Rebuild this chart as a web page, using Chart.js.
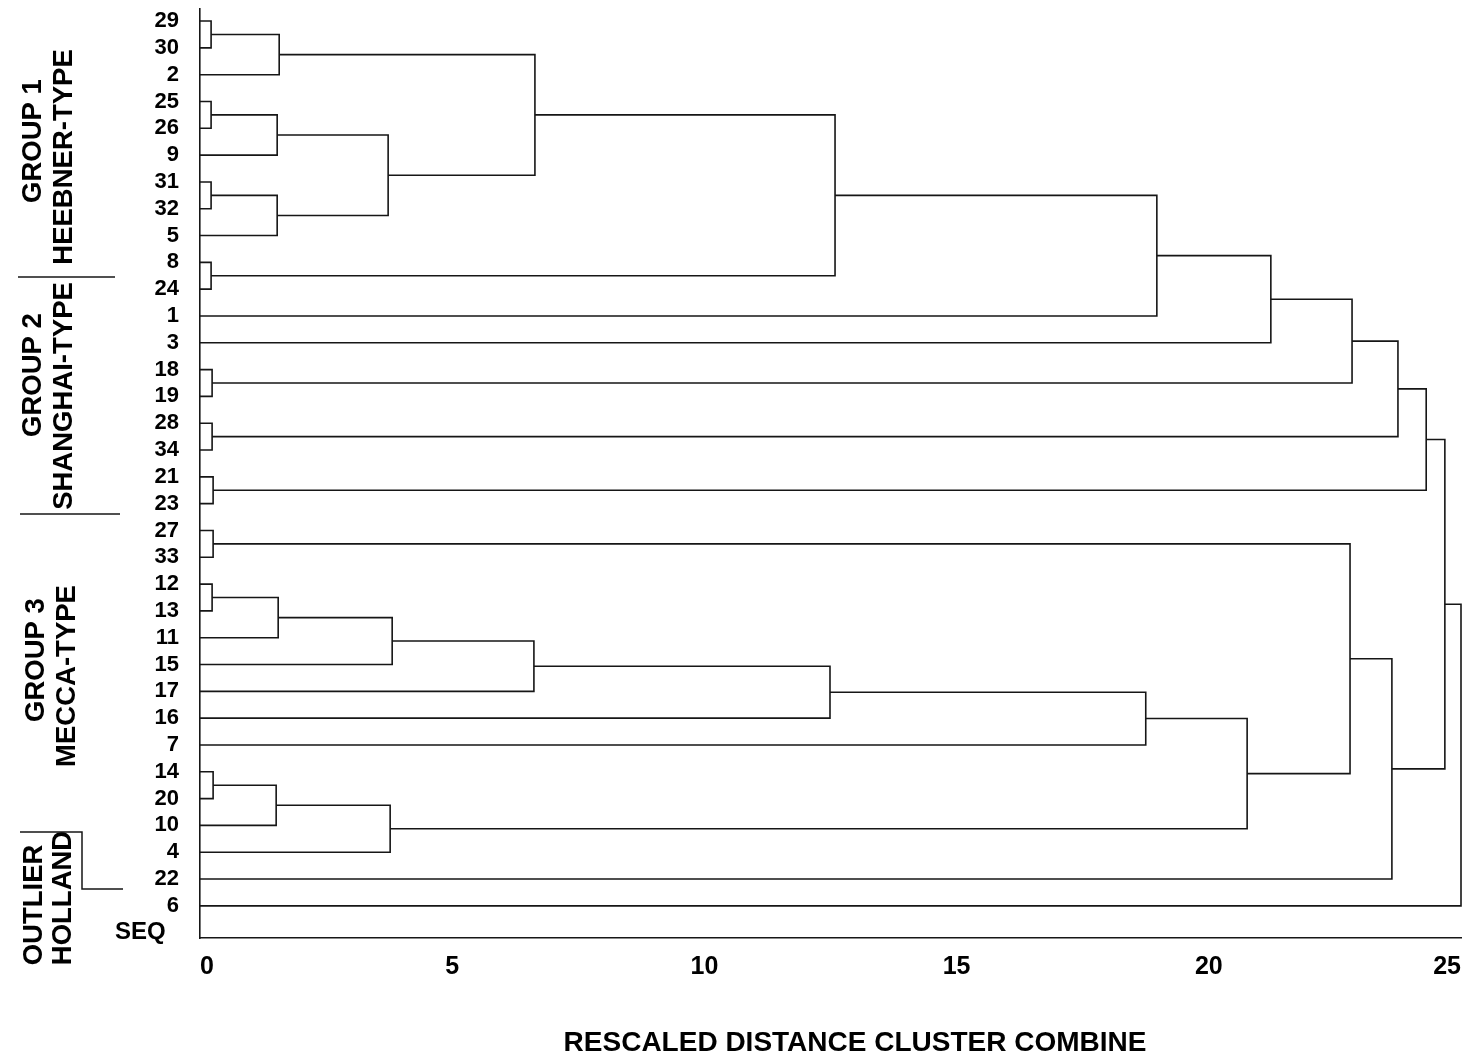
<!DOCTYPE html>
<html>
<head>
<meta charset="utf-8">
<title>Rescaled distance dendrogram</title>
<script src="https://cdn.jsdelivr.net/npm/chart.js@4.4.1/dist/chart.umd.min.js"></script>
<style>
  html, body { margin: 0; padding: 0; background: #fff; }
  #wrap { width: 1469px; height: 1061px; }
</style>
</head>
<body>
<div id="wrap"><canvas id="dendro" width="1469" height="1061"></canvas></div>
<script>
// leaf labels, top to bottom as printed on the left (row index = position)
const leafLabels = ['29','30','2','25','26','9','31','32','5','8','24','1','3','18','19','28','34',
  '21','23','27','33','12','13','11','15','17','16','7','14','20','10','4','22','6'];
const footLabel = 'SEQ';

// merge schedule: node ids 0..33 are the leaves, merge k creates node 34 + k
const mergeLeft  = [0, 34, 3, 36, 6, 38, 37, 35, 9, 41, 43, 44, 13, 45, 15, 47, 17,
  49, 19, 21, 53, 54, 55, 56, 57, 28, 59, 60, 58, 52, 63, 51, 65];
const mergeRight = [1, 2, 4, 5, 7, 8, 39, 40, 10, 42, 11, 12, 14, 46, 16, 48, 18,
  50, 20, 22, 23, 24, 25, 26, 27, 29, 30, 31, 61, 62, 32, 64, 33];
const mergeDist  = [0.22, 1.57, 0.22, 1.53, 0.22, 1.53, 3.73, 6.64, 0.22, 12.59, 18.97, 21.23, 0.24,
  22.84, 0.24, 23.75, 0.26, 24.31, 0.26, 0.24, 1.55, 3.81, 6.62, 12.49, 18.75, 0.26, 1.51, 3.77,
  20.76, 22.80, 23.63, 24.68, 25.00];

// x axis ticks
const distTicks = [0, 5, 10, 15, 20, 25];

const rowLabels = leafLabels.concat([footLabel]);
const LINE = '#161616';
const FONT = "'Liberation Sans', Arial, Helvetica, sans-serif";

// node positions: leaves start at distance 0, each cluster sits halfway between its children
const nodeX = leafLabels.map(() => 0);
const nodeY = leafLabels.map((_, i) => i);
const datasets = [];
mergeDist.forEach((d, k) => {
  const a = mergeLeft[k], b = mergeRight[k];
  datasets.push({
    data: [
      {x: nodeX[a], y: nodeY[a]},
      {x: d, y: nodeY[a]},
      {x: d, y: nodeY[b]},
      {x: nodeX[b], y: nodeY[b]}
    ],
    showLine: true,
    borderColor: LINE,
    borderWidth: 1.6,
    pointRadius: 0,
    fill: false,
    clip: false
  });
  nodeX.push(d);
  nodeY.push((nodeY[a] + nodeY[b]) / 2);
});

// side notes: group names and separator strokes in the left margin
const sideNotes = {
  id: 'sideNotes',
  afterDraw(chart) {
    const ctx = chart.ctx;
    ctx.save();
    ctx.fillStyle = '#000';
    ctx.textAlign = 'center';
    ctx.textBaseline = 'middle';
    ctx.font = "bold 27.5px " + FONT;
    const notes = [
      ['GROUP 1', 33, 141], ['HEEBNER-TYPE', 64, 157],
      ['GROUP 2', 33, 375], ['SHANGHAI-TYPE', 64, 396],
      ['GROUP 3', 36, 660], ['MECCA-TYPE', 67, 676],
      ['OUTLIER', 34, 905], ['HOLLAND', 63, 898]
    ];
    notes.forEach(([t, x, y]) => {
      ctx.save();
      ctx.translate(x, y);
      ctx.rotate(-Math.PI / 2);
      ctx.fillText(t, 0, 0);
      ctx.restore();
    });

    ctx.strokeStyle = LINE;
    ctx.lineWidth = 1.5;
    const strokes = [
      [[18, 277], [115, 277]],
      [[20, 514], [120, 514]],
      [[20, 832], [82, 832], [82, 889], [123, 889]]
    ];
    strokes.forEach(pts => {
      ctx.beginPath();
      pts.forEach(([x, y], i) => i ? ctx.lineTo(x, y) : ctx.moveTo(x, y));
      ctx.stroke();
    });

    // axis title
    ctx.font = "bold 28px " + FONT;
    ctx.fillText('RESCALED DISTANCE CLUSTER COMBINE', 855, 1043);
    ctx.restore();
  }
};

new Chart(document.getElementById('dendro'), {
  type: 'scatter',
  data: { datasets },
  options: {
    responsive: false,
    animation: false,
    events: [],
    layout: { padding: { top: 9, right: 8, left: 0, bottom: 0 } },
    plugins: { legend: { display: false }, tooltip: { enabled: false } },
    scales: {
      x: {
        type: 'linear', min: 0, max: 25,
        afterBuildTicks: s => { s.ticks = distTicks.map(v => ({value: v})); },
        ticks: { color: '#000', padding: 14, align: 'inner', font: { family: FONT, size: 25, weight: 'bold' } },
        grid: { display: false, drawTicks: false },
        border: { display: true, color: LINE, width: 1.6 },
        afterFit: s => { s.height = 123; s.paddingLeft = 0; s.paddingRight = 0; }
      },
      y: {
        type: 'linear', reverse: true, min: -0.45, max: 34.2,
        afterBuildTicks: s => { s.ticks = rowLabels.map((_, i) => ({value: i})); },
        ticks: {
          autoSkip: false, color: '#000', padding: 21,
          font: c => ({ family: FONT, size: c.index === leafLabels.length ? 24 : 22, weight: 'bold' }),
          callback: v => v === leafLabels.length ? rowLabels[v] + '  ' : rowLabels[v]
        },
        grid: { display: false, drawTicks: false },
        border: { display: true, color: LINE, width: 1.6 },
        afterFit: s => { s.width = 200; s.paddingTop = 0; s.paddingBottom = 0; }
      }
    }
  },
  plugins: [sideNotes]
});
</script>
</body>
</html>
